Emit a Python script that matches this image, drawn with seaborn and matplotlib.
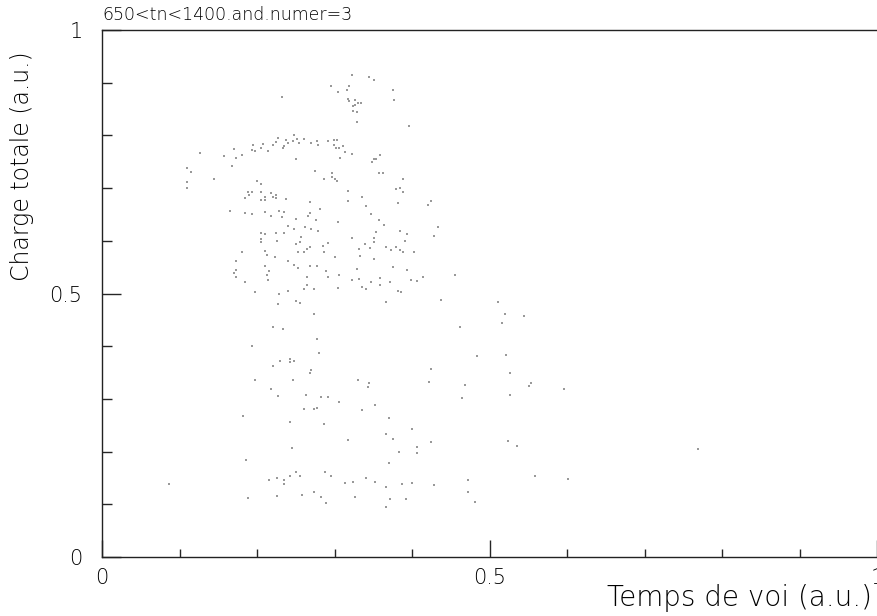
import numpy as np
import pandas as pd
import matplotlib
matplotlib.use("Agg")
import matplotlib.pyplot as plt
from matplotlib.ticker import MultipleLocator, FixedLocator
import seaborn as sns

title_text = "650<tn<1400.and.numer=3"
x_label = "Temps de voi (a.u.)"
y_label = "Charge totale (a.u.)"
x_ticks = [0, 0.5, 1]
x_tick_labels = ["0", "0.5", "1"]
y_ticks = [0, 0.5, 1]
y_tick_labels = ["0", "0.5", "1"]

# Time of flight (a.u.)
tof = [
    0.232, 0.126, 0.158, 0.170, 0.173, 0.180, 0.168, 0.110, 0.115, 0.145, 0.110, 0.110,
    0.195, 0.193, 0.198, 0.205, 0.208, 0.214, 0.220, 0.224, 0.227, 0.235, 0.234, 0.238,
    0.240, 0.248, 0.247, 0.251, 0.254, 0.260, 0.270, 0.277, 0.279, 0.250, 0.275, 0.200,
    0.205, 0.193, 0.188, 0.190, 0.185, 0.205, 0.205, 0.210, 0.218, 0.225, 0.220, 0.225,
    0.237, 0.269, 0.281,
    0.323, 0.345, 0.351, 0.295, 0.319, 0.316, 0.304, 0.376, 0.317, 0.319, 0.326, 0.330,
    0.334, 0.327, 0.324, 0.324, 0.329, 0.377, 0.329, 0.396, 0.292, 0.299, 0.303, 0.299,
    0.302, 0.306, 0.311, 0.314, 0.322, 0.307, 0.359, 0.351, 0.354, 0.348, 0.297, 0.297,
    0.287, 0.301, 0.303, 0.357, 0.363, 0.389, 0.384, 0.379, 0.388, 0.317, 0.336, 0.317,
    0.341, 0.382, 0.424, 0.421,
    0.210, 0.165, 0.185, 0.193, 0.210, 0.229, 0.235, 0.232, 0.218, 0.268, 0.266, 0.250,
    0.276, 0.240, 0.248, 0.262, 0.270, 0.279, 0.205, 0.210, 0.225, 0.235, 0.257, 0.205,
    0.205, 0.226, 0.255, 0.250, 0.268, 0.265, 0.260, 0.253, 0.180, 0.210, 0.213, 0.223,
    0.240, 0.248, 0.253, 0.268, 0.278, 0.173, 0.210, 0.215, 0.213, 0.173, 0.170, 0.173,
    0.185, 0.214, 0.264, 0.265, 0.260, 0.240, 0.228, 0.198, 0.227, 0.250, 0.255, 0.274,
    0.221, 0.233, 0.278, 0.193,
    0.347, 0.304, 0.357, 0.364, 0.433, 0.354, 0.384, 0.394, 0.428, 0.322, 0.351, 0.351,
    0.292, 0.391, 0.285, 0.339, 0.346, 0.367, 0.379, 0.373, 0.384, 0.389, 0.403, 0.286,
    0.331, 0.333, 0.301, 0.351, 0.329, 0.375, 0.394, 0.289, 0.306, 0.292, 0.322, 0.331,
    0.359, 0.347, 0.359, 0.371, 0.399, 0.406, 0.414, 0.456, 0.336, 0.341, 0.274, 0.304,
    0.382, 0.386, 0.366, 0.438, 0.511, 0.520, 0.516, 0.462, 0.545,
    0.280, 0.243, 0.248, 0.242, 0.230, 0.221, 0.270, 0.268, 0.198, 0.246, 0.218, 0.227,
    0.263, 0.260, 0.273, 0.278, 0.182, 0.243, 0.245, 0.186, 0.250, 0.255, 0.243, 0.226,
    0.216, 0.235, 0.235, 0.087, 0.274, 0.258, 0.226, 0.188,
    0.484, 0.521, 0.424, 0.526, 0.330, 0.345, 0.343, 0.422, 0.469, 0.553, 0.551, 0.526,
    0.283, 0.292, 0.306, 0.464, 0.352, 0.335, 0.287, 0.370, 0.400, 0.367, 0.375, 0.317,
    0.424, 0.524, 0.536, 0.407, 0.407, 0.383, 0.370, 0.288, 0.295, 0.313, 0.324, 0.341,
    0.352, 0.367, 0.387, 0.400, 0.428, 0.472, 0.559, 0.283, 0.289, 0.327, 0.372, 0.392,
    0.472, 0.481, 0.367, 0.596, 0.769, 0.601,
]

# Total charge (a.u.)
charge = [
    0.872, 0.766, 0.761, 0.774, 0.758, 0.762, 0.742, 0.738, 0.730, 0.717, 0.712, 0.701,
    0.781, 0.772, 0.770, 0.776, 0.784, 0.770, 0.782, 0.788, 0.796, 0.780, 0.776, 0.791,
    0.786, 0.800, 0.790, 0.793, 0.786, 0.793, 0.785, 0.789, 0.782, 0.756, 0.732, 0.714,
    0.707, 0.692, 0.692, 0.686, 0.681, 0.693, 0.678, 0.683, 0.691, 0.687, 0.684, 0.681,
    0.679, 0.673, 0.660,
    0.914, 0.911, 0.906, 0.894, 0.894, 0.886, 0.882, 0.887, 0.870, 0.866, 0.867, 0.862,
    0.861, 0.857, 0.856, 0.846, 0.845, 0.867, 0.826, 0.817, 0.789, 0.791, 0.791, 0.781,
    0.777, 0.776, 0.780, 0.769, 0.765, 0.757, 0.762, 0.755, 0.755, 0.749, 0.729, 0.722,
    0.717, 0.717, 0.714, 0.729, 0.729, 0.718, 0.701, 0.698, 0.693, 0.695, 0.683, 0.676,
    0.666, 0.672, 0.676, 0.667,
    0.677, 0.657, 0.653, 0.651, 0.655, 0.657, 0.655, 0.646, 0.648, 0.653, 0.648, 0.641,
    0.639, 0.628, 0.622, 0.626, 0.622, 0.619, 0.615, 0.612, 0.615, 0.615, 0.608, 0.604,
    0.598, 0.599, 0.597, 0.593, 0.589, 0.585, 0.579, 0.579, 0.579, 0.581, 0.573, 0.569,
    0.562, 0.555, 0.549, 0.552, 0.552, 0.561, 0.552, 0.542, 0.535, 0.545, 0.539, 0.531,
    0.522, 0.526, 0.531, 0.517, 0.509, 0.505, 0.500, 0.502, 0.481, 0.486, 0.482, 0.461,
    0.437, 0.432, 0.414, 0.400,
    0.651, 0.636, 0.639, 0.630, 0.627, 0.617, 0.619, 0.613, 0.610, 0.605, 0.605, 0.598,
    0.596, 0.600, 0.590, 0.593, 0.586, 0.588, 0.588, 0.583, 0.582, 0.579, 0.579, 0.578,
    0.584, 0.571, 0.569, 0.566, 0.546, 0.550, 0.545, 0.542, 0.535, 0.531, 0.526, 0.527,
    0.530, 0.522, 0.517, 0.522, 0.526, 0.523, 0.532, 0.535, 0.513, 0.509, 0.508, 0.510,
    0.504, 0.503, 0.483, 0.488, 0.484, 0.462, 0.444, 0.436, 0.457,
    0.387, 0.376, 0.372, 0.370, 0.371, 0.363, 0.354, 0.350, 0.336, 0.336, 0.318, 0.306,
    0.307, 0.280, 0.281, 0.283, 0.268, 0.256, 0.207, 0.185, 0.161, 0.154, 0.153, 0.149,
    0.147, 0.147, 0.138, 0.139, 0.123, 0.118, 0.116, 0.112,
    0.381, 0.383, 0.357, 0.350, 0.335, 0.330, 0.323, 0.333, 0.327, 0.331, 0.324, 0.307,
    0.303, 0.303, 0.295, 0.302, 0.289, 0.279, 0.253, 0.263, 0.242, 0.233, 0.224, 0.222,
    0.218, 0.220, 0.211, 0.209, 0.197, 0.199, 0.178, 0.161, 0.154, 0.140, 0.143, 0.150,
    0.142, 0.132, 0.139, 0.141, 0.136, 0.147, 0.153, 0.114, 0.103, 0.114, 0.111, 0.110,
    0.123, 0.104, 0.094, 0.319, 0.204, 0.148,
]

df = pd.DataFrame({"tof": tof, "charge": charge})

sns.set_style("white")
plt.rcParams["font.family"] = ["DejaVu Sans"]
LIGHT = 200

fig = plt.figure(figsize=(8.77, 6.16), dpi=100)
ax = fig.add_axes([102 / 877, 59 / 616, 775 / 877, 527 / 616])

sns.scatterplot(data=df, x="tof", y="charge", ax=ax, marker="s", s=3.5,
                color="#555555", alpha=0.6, linewidth=0)

ax.set_xlim(0, 1)
ax.set_ylim(0, 1)
ax.set_xlabel("")
ax.set_ylabel("")

for side in ["left", "bottom", "top"]:
    ax.spines[side].set_visible(True)
    ax.spines[side].set_color("#222222")
    ax.spines[side].set_linewidth(1.0)
ax.spines["right"].set_visible(False)

ax.xaxis.set_major_locator(FixedLocator(x_ticks))
ax.set_xticklabels(x_tick_labels)
ax.yaxis.set_major_locator(FixedLocator(y_ticks))
ax.set_yticklabels(y_tick_labels)
ax.xaxis.set_minor_locator(MultipleLocator(0.1))
ax.yaxis.set_minor_locator(MultipleLocator(0.1))

ax.tick_params(axis="x", which="major", direction="in", length=12, width=1,
               labelsize=15, pad=8, bottom=True, top=False)
ax.tick_params(axis="x", which="minor", direction="in", length=6, width=1,
               bottom=True, top=False)
ax.tick_params(axis="y", which="major", direction="in", length=14, width=1,
               labelsize=15, pad=14, left=True, right=False)
ax.tick_params(axis="y", which="minor", direction="in", length=7, width=1,
               left=True, right=False)
for lab in ax.get_xticklabels() + ax.get_yticklabels():
    lab.set_color("black")
    lab.set_fontweight(LIGHT)

fig.text(102 / 877, 1 - 15 / 616, title_text, ha="left", va="center",
         fontsize=12.5, color="black", fontweight=LIGHT)
fig.text(0.994, 1 - 598 / 616, x_label, ha="right", va="center",
         fontsize=20, color="black", fontweight=LIGHT)
fig.text(22 / 877, 1 - 166 / 616, y_label, ha="center", va="center",
         rotation=90, fontsize=17, color="black", fontweight=LIGHT)

fig.savefig("out.png", dpi=100, facecolor="white")
